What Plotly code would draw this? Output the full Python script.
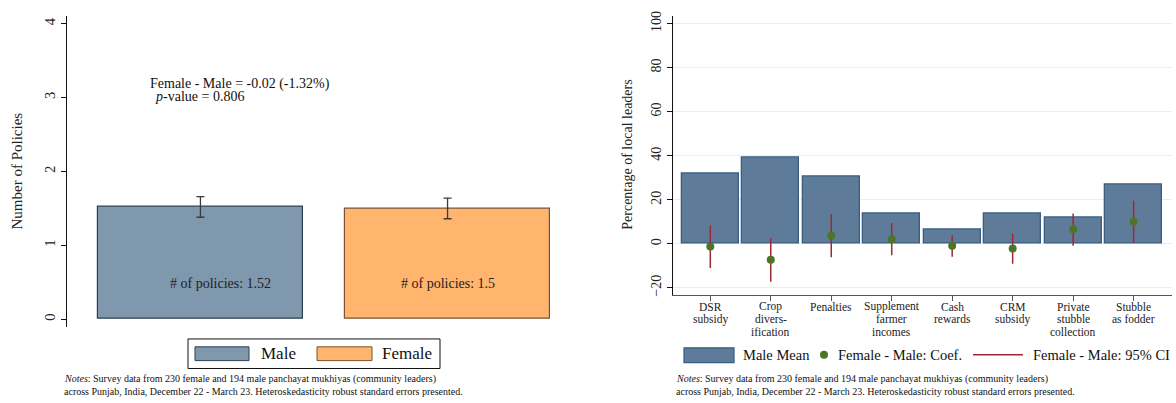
import plotly.graph_objects as go

W, H = 1176, 403
SERIF = "Liberation Serif, Times New Roman, serif"

# ---- Left panel: number of policies supported, by gender of leader ----
groups = ["Male", "Female"]
policies_mean = [1.52, 1.5]
policies_ci_half = [0.14, 0.14]
diff_label = "Female - Male = -0.02 (-1.32%)"
pvalue_label = "0.806"

# ---- Right panel: support for each policy ----
measures = [
    "DSR\nsubsidy",
    "Crop\ndivers-\nification",
    "Penalties",
    "Supplement\nfarmer\nincomes",
    "Cash\nrewards",
    "CRM\nsubsidy",
    "Private\nstubble\ncollection",
    "Stubble\nas fodder",
]
male_mean = [32.0, 39.3, 30.4, 13.8, 6.5, 13.8, 11.9, 26.8]
coef = [-1.2, -7.3, 3.7, 2.1, -0.9, -2.2, 6.6, 10.0]
ci_low = [-11.0, -17.3, -6.1, -5.2, -5.9, -9.1, -0.9, 0.3]
ci_high = [8.3, 2.5, 13.4, 9.4, 3.9, 4.6, 13.8, 19.5]

notes_lines = [
    "<i>Notes</i>: Survey data from 230 female and 194 male panchayat mukhiyas (community leaders)",
    "across Punjab, India, December 22 - March 23. Heteroskedasticity robust standard errors presented.",
]

MALE_FILL, MALE_EDGE = "#7f98ae", "#2f4050"
FEMALE_FILL, FEMALE_EDGE = "#ffb56e", "#7a5230"
BAR_FILL, BAR_EDGE = "#5e7c99", "#3a5d82"
COEF_COLOR = "#4e7428"
CI_COLOR = "#a02834"


def px(x):
    return x / W


def py(y):
    return 1 - y / H


keys = [m.replace("\n", " ") for m in measures]

fig = go.Figure()

# Left bars with 95% CI whiskers
fig.add_trace(go.Bar(
    x=groups, y=policies_mean, width=0.83,
    marker=dict(color=[MALE_FILL, FEMALE_FILL],
                line=dict(color=[MALE_EDGE, FEMALE_EDGE], width=1.2)),
    error_y=dict(type="data", array=policies_ci_half, color="#3a3a3a",
                 thickness=1.3, width=4),
    xaxis="x", yaxis="y", showlegend=False, hoverinfo="skip",
))

# Right bars: male mean
fig.add_trace(go.Bar(
    x=keys, y=male_mean, width=0.943,
    marker=dict(color=BAR_FILL, line=dict(color=BAR_EDGE, width=1.3)),
    xaxis="x2", yaxis="y2", showlegend=False, hoverinfo="skip",
))

# Female - male coefficient with 95% CI
fig.add_trace(go.Scatter(
    x=keys, y=coef, mode="markers",
    marker=dict(color=COEF_COLOR, size=8),
    error_y=dict(type="data", symmetric=False,
                 array=[h - c for h, c in zip(ci_high, coef)],
                 arrayminus=[c - l for c, l in zip(coef, ci_low)],
                 color=CI_COLOR, thickness=1.5, width=0),
    xaxis="x2", yaxis="y2", showlegend=False, hoverinfo="skip",
))

annotations = []
shapes = []

# Labels inside the left bars
for i, (g, v) in enumerate(zip(groups, policies_mean)):
    annotations.append(dict(
        x=g, y=0.48, xref="x", yref="y", text=f"# of policies: {v:g}",
        showarrow=False, xshift=20 if i == 0 else 0,
        font=dict(family=SERIF, size=14, color="#222")))

annotations.append(dict(
    x=px(148), y=py(81), xref="paper", yref="paper", text=diff_label,
    showarrow=False, xanchor="left", yanchor="middle",
    font=dict(family=SERIF, size=14, color="#111")))
annotations.append(dict(
    x=px(153), y=py(94), xref="paper", yref="paper",
    text=f"<i>p</i>-value = {pvalue_label}",
    showarrow=False, xanchor="left", yanchor="middle",
    font=dict(family=SERIF, size=14, color="#111")))

# Axis titles
annotations.append(dict(
    x=px(17), y=py(170), xref="paper", yref="paper", text="Number of Policies",
    textangle=-90, showarrow=False, xanchor="center", yanchor="middle",
    font=dict(family=SERIF, size=15, color="#222")))
annotations.append(dict(
    x=px(628), y=py(153), xref="paper", yref="paper",
    text="Percentage of local leaders",
    textangle=-90, showarrow=False, xanchor="center", yanchor="middle",
    font=dict(family=SERIF, size=14, color="#222")))

# Multi-line category labels of the right panel
for k, m in zip(keys, measures):
    for j, line in enumerate(m.split("\n")):
        annotations.append(dict(
            x=k, y=py(307.5 + j * 12.5), xref="x2", yref="paper", text=line,
            showarrow=False, xanchor="center", yanchor="middle", borderpad=0,
            font=dict(family=SERIF, size=11.5, color="#222")))

# Left legend
shapes.append(dict(type="rect", xref="paper", yref="paper",
                   x0=px(188), x1=px(440), y0=py(370), y1=py(340),
                   line=dict(color="#111", width=1), fillcolor="white"))
for (x0, x1, fill, edge, label, tx) in [
    (195, 249, MALE_FILL, MALE_EDGE, groups[0], 259),
    (317, 372, FEMALE_FILL, FEMALE_EDGE, groups[1], 380),
]:
    shapes.append(dict(type="rect", xref="paper", yref="paper",
                       x0=px(x0), x1=px(x1), y0=py(362), y1=py(348),
                       line=dict(color=edge, width=1), fillcolor=fill))
    annotations.append(dict(
        x=px(tx), y=py(355), xref="paper", yref="paper", text=label,
        showarrow=False, xanchor="left", yanchor="middle",
        font=dict(family=SERIF, size=17, color="#111")))

# Right legend
shapes.append(dict(type="rect", xref="paper", yref="paper",
                   x0=px(684), x1=px(734), y0=py(364), y1=py(349),
                   line=dict(color=BAR_EDGE, width=1.2), fillcolor=BAR_FILL))
shapes.append(dict(type="circle", xref="paper", yref="paper",
                   x0=px(820), x1=px(828), y0=py(360), y1=py(352),
                   line=dict(color=COEF_COLOR, width=0), fillcolor=COEF_COLOR))
shapes.append(dict(type="line", xref="paper", yref="paper",
                   x0=px(973), x1=px(1023), y0=py(356), y1=py(356),
                   line=dict(color=CI_COLOR, width=1.5)))
for tx, label in [(741, "Male Mean"), (836, "Female - Male: Coef."),
                  (1031, "Female - Male: 95% CI")]:
    annotations.append(dict(
        x=px(tx), y=py(356), xref="paper", yref="paper", text=label,
        showarrow=False, xanchor="left", yanchor="middle",
        font=dict(family=SERIF, size=14.5, color="#111")))

# Notes under each panel
for x0 in (62, 674):
    for j, line in enumerate(notes_lines):
        annotations.append(dict(
            x=px(x0), y=py(381 + j * 12), xref="paper", yref="paper",
            text=line, showarrow=False, xanchor="left", yanchor="middle",
            font=dict(family=SERIF, size=10, color="#111")))

fig.update_layout(
    width=W, height=H,
    margin=dict(l=0, r=0, t=0, b=0),
    paper_bgcolor="white", plot_bgcolor="white",
    bargap=0, showlegend=False,
    font=dict(family=SERIF, color="#222"),
    xaxis=dict(domain=[px(67), px(581)], range=[-0.54, 1.54],
               showticklabels=False, ticks="", showgrid=False,
               zeroline=False, showline=False, fixedrange=True),
    yaxis=dict(domain=[py(328), py(12)], range=[-0.107, 4.107],
               tickvals=[0, 1, 2, 3, 4], ticks="outside", ticklen=5,
               tickcolor="#111", tickangle=-90, showgrid=False,
               zeroline=False, showline=True, linecolor="#111", linewidth=1,
               tickfont=dict(family=SERIF, size=14.5, color="#222"),
               anchor="x"),
    xaxis2=dict(domain=[px(673), px(1172)], range=[-0.617, 7.635],
                showticklabels=False, ticks="outside", ticklen=5,
                tickcolor="#555", showgrid=False, zeroline=False,
                showline=True, linecolor="#555", linewidth=1,
                anchor="y2", fixedrange=True),
    yaxis2=dict(domain=[py(295), py(11.7)], range=[-23.1, 103.7],
                tickvals=[-20, 0, 20, 40, 60, 80, 100], ticks="outside",
                ticklen=5, tickcolor="#111", tickangle=-90,
                showgrid=True, gridcolor="#e6eef1", gridwidth=1,
                zeroline=False, showline=True, linecolor="#111", linewidth=1,
                tickfont=dict(family=SERIF, size=14, color="#222"),
                anchor="x2"),
    annotations=annotations,
    shapes=shapes,
)

fig.write_html("out.html")
